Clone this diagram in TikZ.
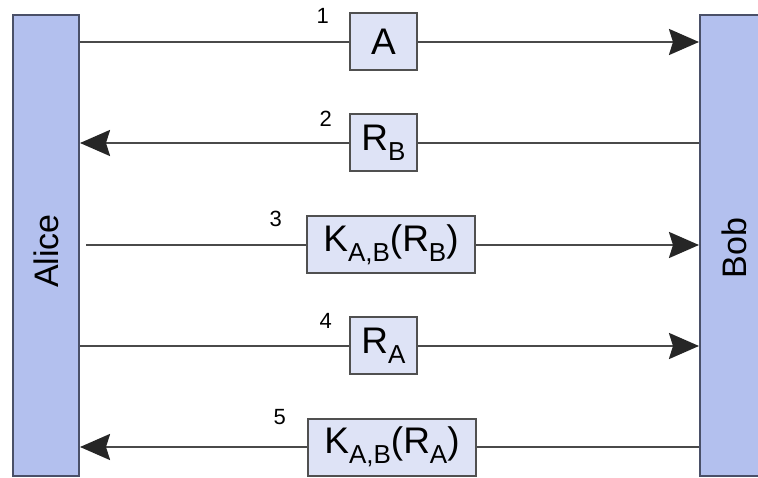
\documentclass[tikz,border=0pt]{standalone}
\usepackage{fontspec}
\setmainfont{Liberation Sans}
\usetikzlibrary{arrows.meta,positioning}
\definecolor{barfill}{HTML}{B3C0EE}
\definecolor{barline}{HTML}{4A5068}
\definecolor{boxfill}{HTML}{DEE3F6}
\definecolor{boxline}{HTML}{505050}
\definecolor{msgline}{HTML}{4A4A4A}
\newcommand{\idx}[1]{\raisebox{-10pt}{\fontsize{26}{26}\selectfont #1}}
\tikzset{
  partybar/.style={draw=barline, line width=2pt, fill=barfill, inner sep=0pt,
    minimum width=66pt, minimum height=461pt},
  partyname/.style={rotate=90, inner sep=0pt, font=\fontsize{34}{34}\selectfont},
  msgbox/.style={draw=boxline, line width=2pt, fill=boxfill, inner sep=0pt,
    minimum width=67pt, minimum height=57pt, font=\fontsize{37}{37}\selectfont},
  widebox/.style={msgbox, minimum width=168pt},
  stepno/.style={inner sep=0pt, font=\fontsize{22}{22}\selectfont},
  msg/.style={line width=2.6pt, draw=msgline},
  msgarr/.style={msg, -{Stealth[length=30pt, width=26pt, inset=4pt, color=black!85]}}
}

\begin{document}
\begin{tikzpicture}[x=1pt, y=-1pt]
    \useasboundingbox (0,0) rectangle (758,478);
    \node[partybar] (alice) at (46,245.5) {};
    \node[partybar] (bob) at (733,245.5) {};
    \node[partyname] (alicename) at (46,251) {Alice};
    \node[partyname] (bobname) at (734,248) {Bob};

    \node[msgbox] (m1) at (383.5,42) {A};
    \node[msgbox] (m2) at (383.5,143) {R\idx{B}};
    \node[widebox] (m3) at (391,245) {K\idx{A,B}(R\idx{B})};
    \node[msgbox] (m4) at (383.5,346) {R\idx{A}};
    \node[widebox] (m5) at (392,447) {K\idx{A,B}(R\idx{A})};

    \node[stepno, above left=-11pt and 20pt of m1.north west] (n1) {1};
    \node[stepno, above left=-13pt and 17pt of m2.north west] (n2) {2};
    \node[stepno, above left=-11pt and 24pt of m3.north west] (n3) {3};
    \node[stepno, above left=-12pt and 17pt of m4.north west] (n4) {4};
    \node[stepno, above left=-7pt and 21pt of m5.north west] (n5) {5};

    \path (alice.east |- m3.west) ++(6,0) coordinate (s3);

    \draw[msg] (alice.east |- m1.west) -- (m1.west);
    \draw[msgarr] (m1.east) -- (bob.west |- m1.east);
    \draw[msg] (bob.west |- m2.east) -- (m2.east);
    \draw[msgarr] (m2.west) -- (alice.east |- m2.west);
    \draw[msg] (s3) -- (m3.west);
    \draw[msgarr] (m3.east) -- (bob.west |- m3.east);
    \draw[msg] (alice.east |- m4.west) -- (m4.west);
    \draw[msgarr] (m4.east) -- (bob.west |- m4.east);
    \draw[msg] (bob.west |- m5.east) -- (m5.east);
    \draw[msgarr] (m5.west) -- (alice.east |- m5.west);
  \end{tikzpicture}
\end{document}
